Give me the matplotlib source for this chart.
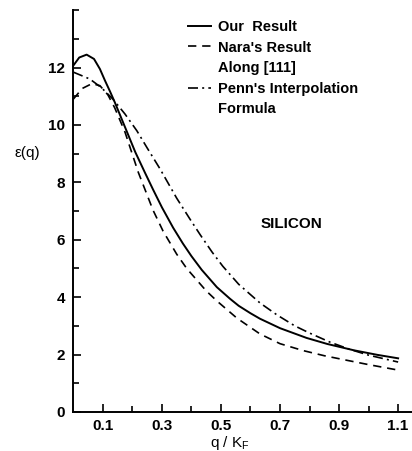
import numpy as np
from matplotlib import pyplot as plt
from matplotlib.ticker import MultipleLocator, FixedLocator

plt.rcParams['font.family'] = ['Liberation Sans', 'DejaVu Sans']
plt.rcParams['font.weight'] = 'bold'
plt.rcParams['mathtext.default'] = 'regular'

# Our Result (solid)
q_our = [0.0, 0.02, 0.045, 0.07, 0.09, 0.107, 0.125, 0.14, 0.16, 0.18, 0.21, 0.242,
         0.27, 0.3, 0.338, 0.371, 0.4, 0.435, 0.486, 0.53, 0.56, 0.6, 0.632, 0.7,
         0.79, 0.86, 0.95, 1.03, 1.1]
eps_our = [12.07, 12.35, 12.45, 12.3, 11.95, 11.55, 11.15, 10.8, 10.3, 9.8, 9.05, 8.35,
           7.75, 7.13, 6.42, 5.87, 5.43, 4.95, 4.35, 3.95, 3.7, 3.44, 3.25, 2.92,
           2.58, 2.37, 2.15, 1.99, 1.87]

# Nara's result along [111] (dashed)
q_nara = [0.0, 0.03, 0.063, 0.09, 0.117, 0.14, 0.175, 0.22, 0.27, 0.304, 0.35, 0.384,
          0.45, 0.486, 0.554, 0.632, 0.7, 0.778, 0.85, 0.927, 1.0, 1.1]
eps_nara = [10.9, 11.27, 11.44, 11.37, 11.05, 10.6, 9.75, 8.35, 7.03, 6.3, 5.5, 5.0,
            4.22, 3.87, 3.27, 2.72, 2.38, 2.14, 1.96, 1.8, 1.65, 1.46]

# Penn's interpolation formula (dash-dot)
q_penn = [0.0, 0.056, 0.095, 0.134, 0.175, 0.215, 0.25, 0.293, 0.35, 0.395, 0.43, 0.47,
          0.506, 0.56, 0.632, 0.69, 0.75, 0.8, 0.87, 0.937, 1.0, 1.1]
eps_penn = [11.84, 11.6, 11.3, 10.9, 10.38, 9.8, 9.2, 8.48, 7.45, 6.72, 6.17, 5.57,
            5.08, 4.45, 3.8, 3.38, 3.0, 2.75, 2.43, 2.18, 1.98, 1.74]

xticks = [0.1, 0.3, 0.5, 0.7, 0.9, 1.1]
xticklabels = ['0.1', '0.3', '0.5', '0.7', '0.9', '1.1']

fig = plt.figure(figsize=(4.12, 4.51), dpi=100)
ax = fig.add_axes([0.178, 0.0865, 0.822, 0.891])

ax.plot(q_our, eps_our, color='k', lw=1.4, label='Our  Result')
ax.plot(q_nara, eps_nara, color='k', lw=1.2, dashes=(5, 3.5), label="Nara's Result")
ax.plot([], [], color='none', label='Along [111]')
ax.plot(q_penn, eps_penn, color='k', lw=1.2, dashes=(6, 2.5, 1.2, 2.5),
        label="Penn's Interpolation")
ax.plot([], [], color='none', label='Formula')

ax.set_xlim(0, 1.147)
ax.set_ylim(0, 14.0)
ax.spines['top'].set_visible(False)
ax.spines['right'].set_visible(False)
ax.spines['left'].set_linewidth(1.4)
ax.spines['bottom'].set_linewidth(1.4)

ax.xaxis.set_major_locator(FixedLocator(xticks))
ax.set_xticklabels(xticklabels)
ax.xaxis.set_minor_locator(FixedLocator([0.2, 0.4, 0.6, 0.8, 1.0]))
ax.yaxis.set_major_locator(MultipleLocator(2))
ax.yaxis.set_minor_locator(MultipleLocator(1))
ax.set_yticks([0, 2, 4, 6, 8, 10, 12])
ax.tick_params(which='major', direction='in', length=6, width=1.2, labelsize=11)
ax.tick_params(which='minor', direction='in', length=4, width=1.2)
ax.tick_params(axis='y', pad=6)
ax.tick_params(axis='x', pad=5)

ax.set_xlabel(r'q / K$_\mathregular{F}$', fontsize=11, va='center')
ax.xaxis.set_label_coords(0.462, -0.076)
ax.set_ylabel('\u03b5(q)', fontsize=11, rotation=0, va='center')
ax.yaxis.set_label_coords(-0.137, 0.644)

ax.text(0.74, 6.54, 'SILICON', fontsize=11, ha='center', va='center')

leg = ax.legend(loc='upper left', bbox_to_anchor=(0.32, 0.99), frameon=False,
                fontsize=10.5, handlelength=1.6, handletextpad=0.5, labelspacing=0.45,
                borderaxespad=0.0)

fig.savefig('out.png', dpi=100)
